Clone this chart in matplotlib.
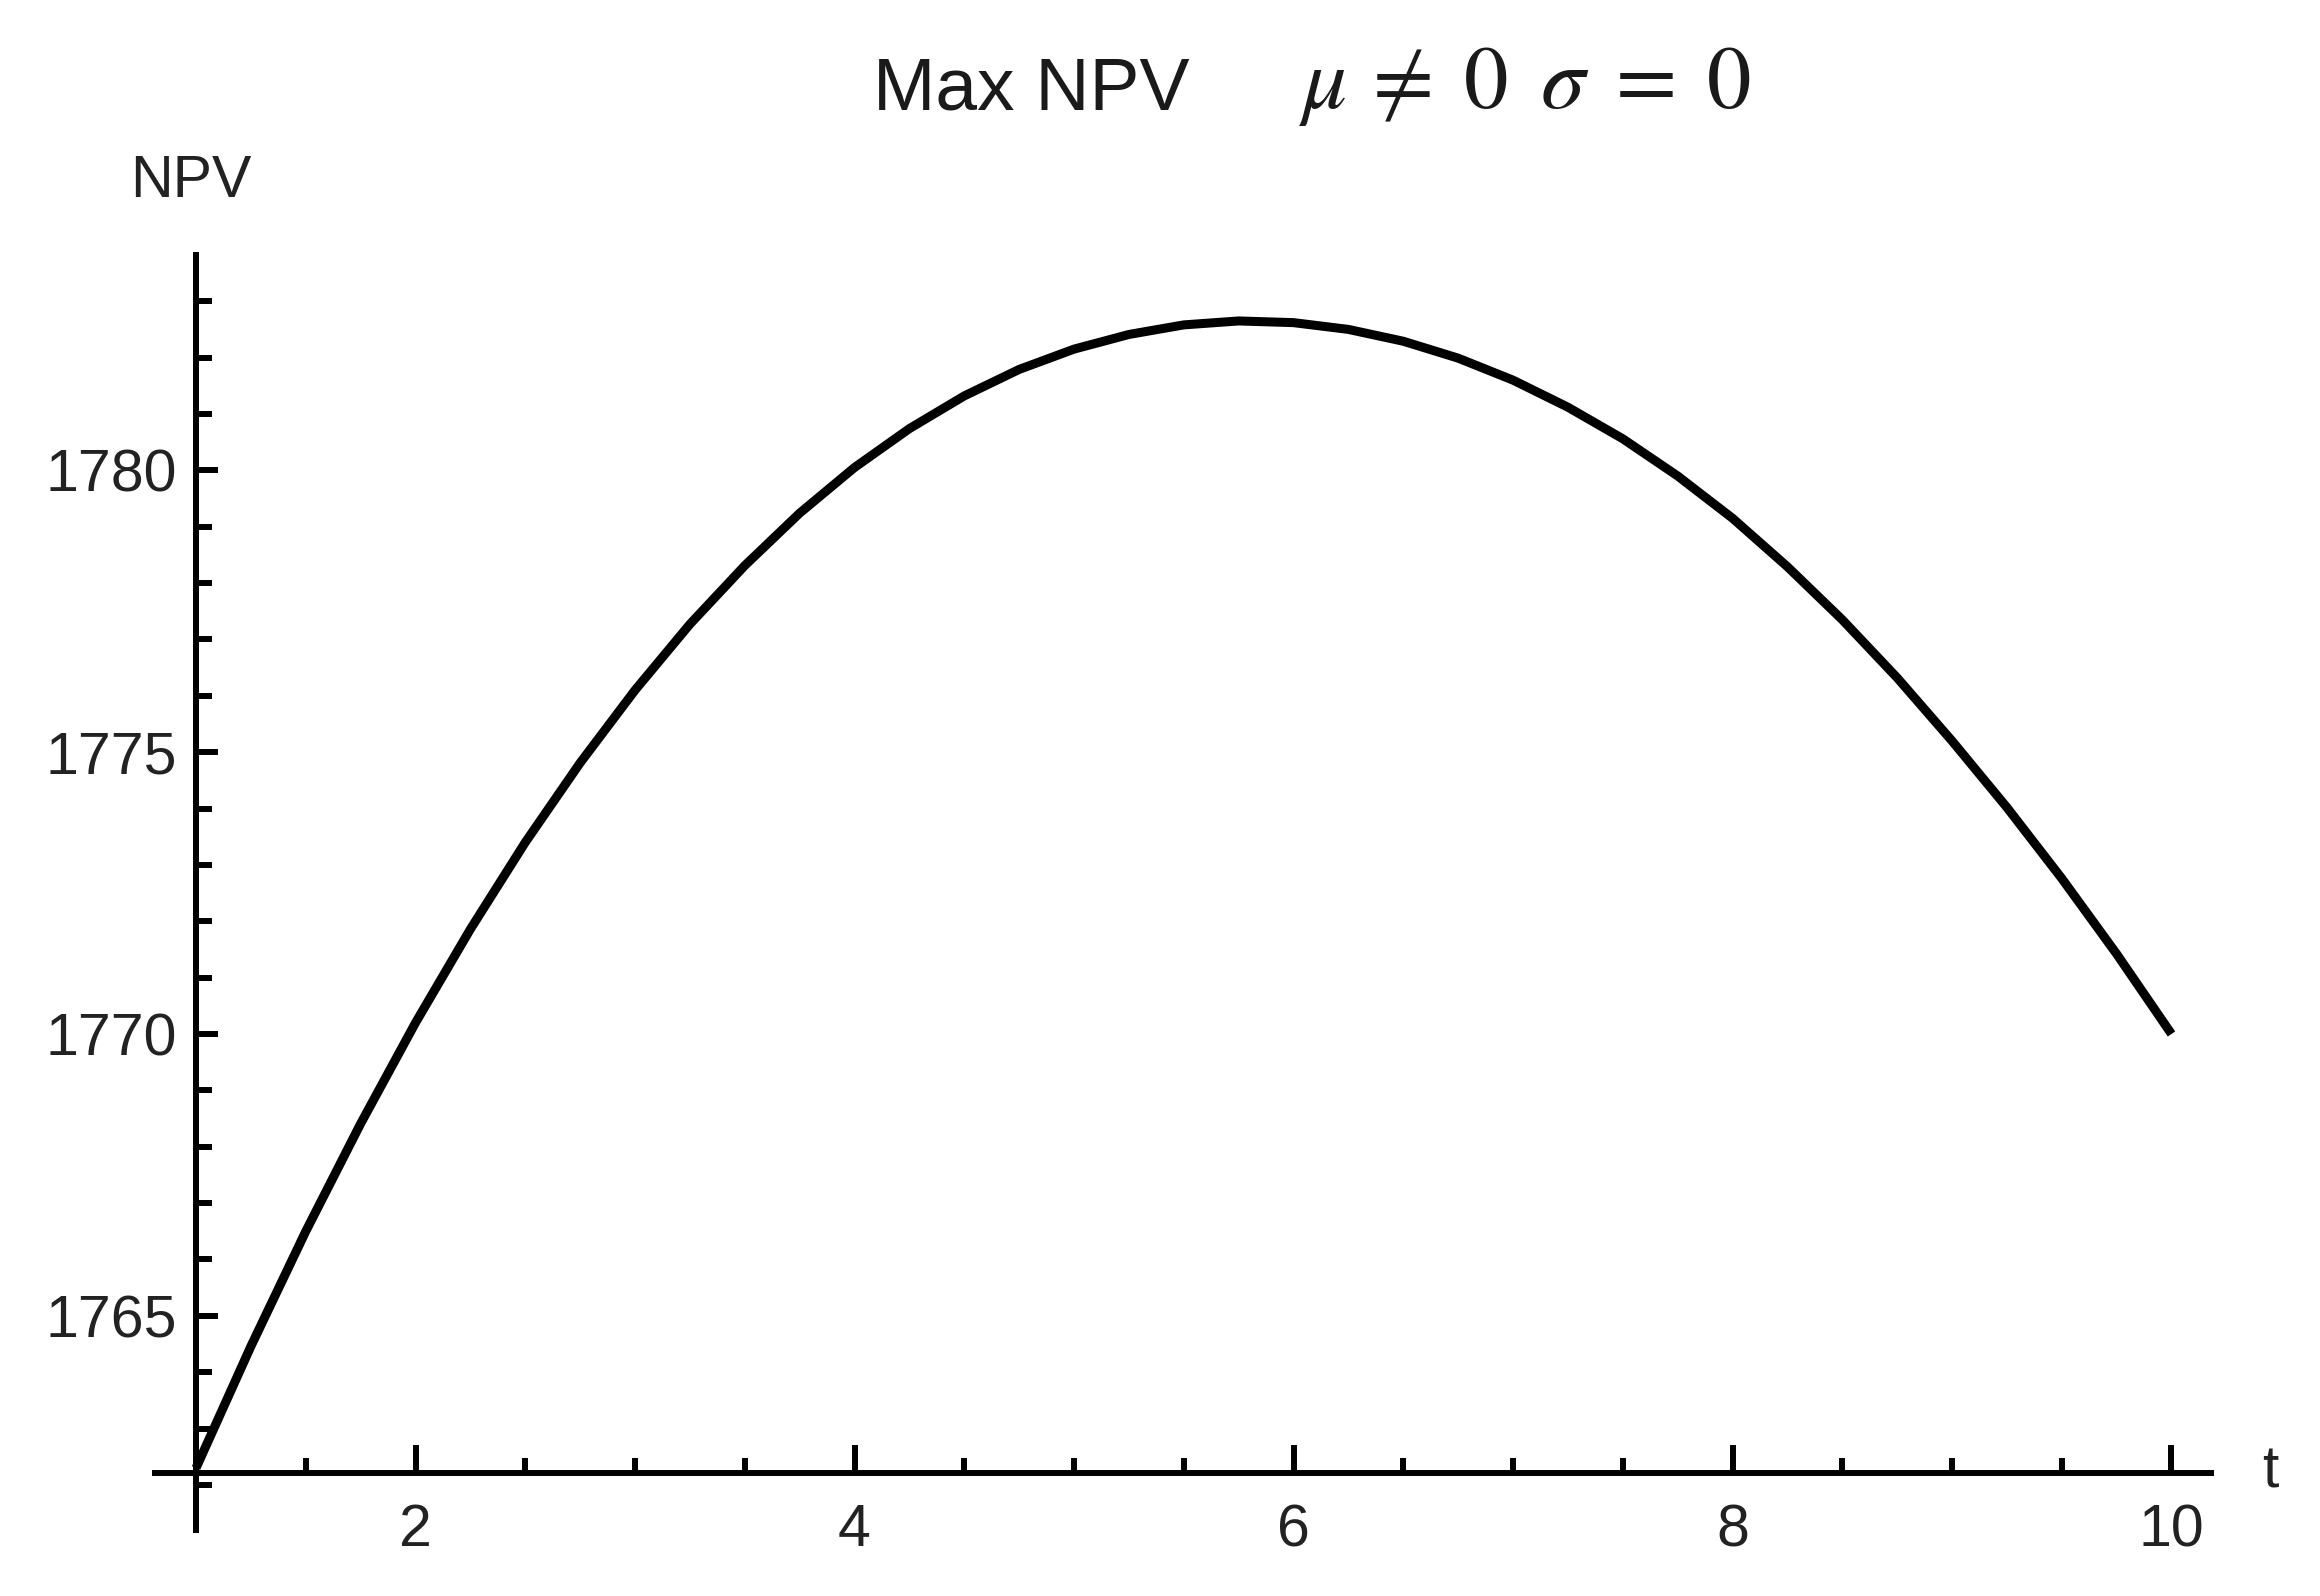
import numpy as np
import matplotlib
matplotlib.use('Agg')
import matplotlib.pyplot as plt

plt.rcParams['font.family'] = ['Liberation Sans', 'DejaVu Sans']
plt.rcParams['mathtext.fontset'] = 'stix'

# values (every quarter step of t)
t = [1.0, 1.25, 1.5, 1.75, 2.0, 2.25, 2.5, 2.75, 3.0, 3.25, 3.5, 3.75,
     4.0, 4.25, 4.5, 4.75, 5.0, 5.25, 5.5, 5.75, 6.0, 6.25, 6.5, 6.75,
     7.0, 7.25, 7.5, 7.75, 8.0, 8.25, 8.5, 8.75, 9.0, 9.25, 9.5, 9.75, 10.0]
npv = [1762.3, 1764.46, 1766.5, 1768.41, 1770.2, 1771.86, 1773.4, 1774.81,
       1776.1, 1777.27, 1778.31, 1779.24, 1780.05, 1780.74, 1781.32, 1781.79,
       1782.15, 1782.41, 1782.58, 1782.65, 1782.62, 1782.5, 1782.29, 1781.99,
       1781.6, 1781.12, 1780.56, 1779.9, 1779.15, 1778.29, 1777.35, 1776.32,
       1775.2, 1774.02, 1772.76, 1771.42, 1770.0]

x_ticks = [2, 4, 6, 8, 10]
x_minor = np.arange(1.5, 10.01, 0.5)
y_ticks = [1765, 1770, 1775, 1780]
y_minor = np.arange(1762, 1784, 1)

W, H = 2320, 1596
fig = plt.figure(figsize=(W / 100, H / 100), dpi=100)
ax = fig.add_axes([155 / W, 1 - 1530 / H, 2056 / W, 1275 / H])

ax.plot(t, npv, color='black', lw=6.5, solid_joinstyle='round', solid_capstyle='butt')

ax.set_xlim(0.813, 10.18)
ax.set_ylim(1761.2, 1783.82)

for s in ['top', 'right']:
    ax.spines[s].set_visible(False)
ax.spines['left'].set_position(('data', 1))
ax.spines['bottom'].set_position(('data', 1762.22))
for s in ['left', 'bottom']:
    ax.spines[s].set_linewidth(4.3)

ax.set_xticks(x_ticks)
ax.set_xticks([v for v in x_minor if v not in x_ticks], minor=True)
ax.set_yticks(y_ticks)
ax.set_yticks([v for v in y_minor if v not in y_ticks], minor=True)
ax.tick_params(axis='x', which='major', direction='in', length=20, width=4.3,
               labelsize=42.5, pad=22, labelcolor='#222222')
ax.tick_params(axis='x', which='minor', direction='in', length=11, width=4.3)
ax.tick_params(axis='y', which='major', direction='in', length=16, width=4.3,
               labelsize=42.5, pad=14, labelcolor='#222222')
ax.tick_params(axis='y', which='minor', direction='in', length=11.5, width=4.3)

fig.text(873 / W, 1 - 110 / H, 'Max NPV', fontsize=54, color='#1a1a1a', va='baseline')
fig.text(1299 / W, 1 - 108 / H, r'$\mu\, \neq\; 0\ \,\sigma\; =\; 0$', fontsize=64,
         color='#1a1a1a', va='baseline')
fig.text(130 / W, 1 - 197 / H, 'NPV', fontsize=42.5, color='#222222', va='baseline')
fig.text(2262 / W, 1 - 1487 / H, 't', fontsize=42.5, color='#222222', va='baseline')

fig.savefig('out.png', dpi=100)
